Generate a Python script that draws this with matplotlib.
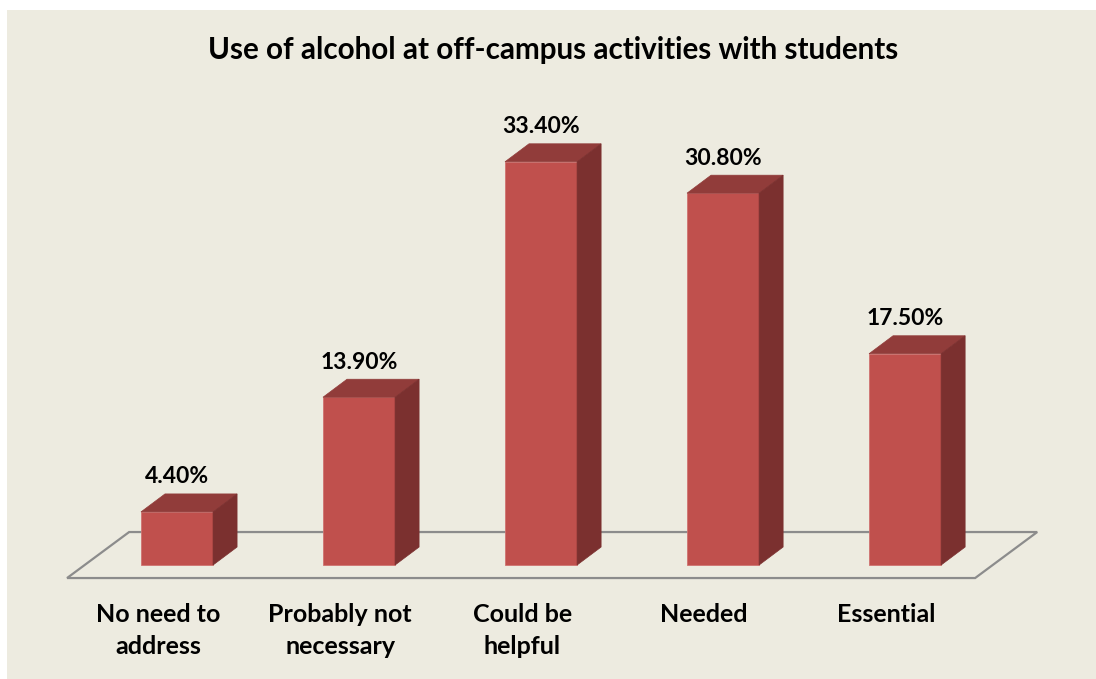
import matplotlib
matplotlib.use("Agg")
import matplotlib.pyplot as plt
from matplotlib.patches import Polygon, Rectangle

categories = ["No need to\naddress", "Probably not\nnecessary", "Could be\nhelpful", "Needed", "Essential"]
values = [4.4, 13.9, 33.4, 30.8, 17.5]
labels = ["4.40%", "13.90%", "33.40%", "30.80%", "17.50%"]

front = "#C0504D"
top_c = "#913C3A"
side_c = "#7B302F"
bg = "#EDEBE0"

plt.rcParams["font.family"] = ["Lato", "DejaVu Sans"]

fig = plt.figure(figsize=(10.96, 6.79), dpi=100)
fig.patches.append(Rectangle((7 / 1096, 0), 1, (679 - 10) / 679, transform=fig.transFigure,
                             facecolor=bg, edgecolor="none", zorder=-5))
ax = fig.add_axes([0, 0, 1, 1])
ax.set_zorder(1)
ax.set_xlim(-0.9725, 5.049)
ax.set_ylim(-9.44, 46.8)
ax.axis("off")
ax.patch.set_alpha(0)

w = 0.396
dx, dy = 0.132, 1.49

# floor
fx0, fx1, fy = -0.604, 4.385, -1.077
ddx, ddy = 0.341, 3.81
floor = Polygon([(fx0, fy), (fx1, fy), (fx1 + ddx, fy + ddy), (fx0 + ddx, fy + ddy)],
                closed=True, facecolor="none", edgecolor="#8C8C8C", lw=1.6, zorder=1)
ax.add_patch(floor)

xs = list(range(len(values)))
ax.bar(xs, values, width=w, color=front, edgecolor="#D07370", lw=0.6, zorder=3)
for i, v in enumerate(values):
    l, r = i - w / 2, i + w / 2
    ax.add_patch(Polygon([(l, v), (r, v), (r + dx, v + dy), (l + dx, v + dy)],
                         facecolor=top_c, edgecolor=top_c, lw=0.5, zorder=3))
    ax.add_patch(Polygon([(r, 0), (r + dx, dy), (r + dx, v + dy), (r, v)],
                         facecolor=side_c, edgecolor=side_c, lw=0.5, zorder=3))
    ax.text(i, v + 2.9, labels[i], ha="center", va="center", fontsize=16.5,
            fontweight="bold", zorder=4)
    ax.text(i - 0.104, -3.15, categories[i], ha="center", va="top", fontsize=18,
            fontweight="bold", linespacing=1.45)

fig.text(0.505, 1 - 50 / 679, "Use of alcohol at off-campus activities with students",
         ha="center", va="center", fontsize=21.3, fontweight="bold", zorder=2)

fig.savefig("out.png", dpi=100)
